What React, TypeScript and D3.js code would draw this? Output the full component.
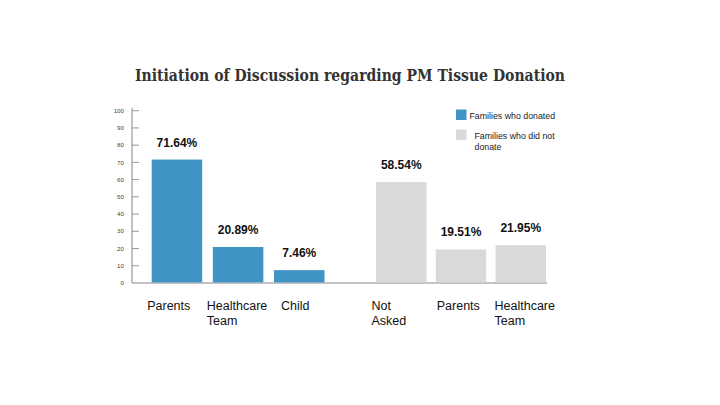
import { useEffect, useRef } from "react";
import * as d3 from "d3";

const donatedCategories = ["Parents", "Healthcare\nTeam", "Child"];
const donatedValues = [71.64, 20.89, 7.46];
const notDonatedCategories = ["Not\nAsked", "Parents", "Healthcare\nTeam"];
const notDonatedValues = [58.54, 19.51, 21.95];
const yTicks = [0, 10, 20, 30, 40, 50, 60, 70, 80, 90, 100];
const legendLabels = ["Families who donated", "Families who did not\ndonate"];

// label nudges relative to bar left edge, as placed in the original
const leftLabelShift = [-4.5, -6, 7];
const rightLabelShift = [-4.5, 1, -1];

const BLUE = "#4094c5";
const GRAY = "#d9d9d9";

function App() {
  const svgRef = useRef<SVGSVGElement | null>(null);

  useEffect(() => {
    const svg = d3.select(svgRef.current);
    svg.selectAll("*").remove();

    const y = d3.scaleLinear().domain([0, 100]).range([283, 110.7]);
    const xLeft = d3.scaleBand<string>()
      .domain(donatedCategories)
      .range([151.7, 324.5])
      .paddingInner(0.174)
      .paddingOuter(0);
    const xRight = d3.scaleBand<string>()
      .domain(notDonatedCategories)
      .range([376, 546])
      .paddingInner(0.155)
      .paddingOuter(0);

    // title
    svg.append("text")
      .attr("x", 350)
      .attr("y", 81)
      .attr("text-anchor", "middle")
      .attr("font-family", "'DejaVu Serif', serif")
      .attr("font-weight", "bold")
      .attr("font-size", 16.5)
      .attr("fill", "#333")
      .attr("textLength", 430)
      .attr("lengthAdjust", "spacingAndGlyphs")
      .text("Initiation of Discussion regarding PM Tissue Donation");

    // y axis
    const axis = svg.append("g").attr("transform", "translate(132,0)");
    axis.append("line")
      .attr("x1", 0).attr("x2", 0)
      .attr("y1", y(100) - 3).attr("y2", y(0))
      .attr("stroke", "#888").attr("stroke-width", 1);
    axis.selectAll("line.tick")
      .data(yTicks.filter((t) => t > 0))
      .join("line")
      .attr("class", "tick")
      .attr("x1", 0).attr("x2", 7)
      .attr("y1", (d) => y(d)).attr("y2", (d) => y(d))
      .attr("stroke", "#999").attr("stroke-width", 1);
    axis.selectAll("text")
      .data(yTicks)
      .join("text")
      .attr("x", -8)
      .attr("y", (d) => y(d))
      .attr("dy", "0.35em")
      .attr("text-anchor", "end")
      .attr("font-family", "Arial, 'Liberation Sans', sans-serif")
      .attr("font-size", 6.2)
      .attr("fill", "#444")
      .text((d) => d);

    // baseline
    svg.append("line")
      .attr("x1", 132).attr("x2", 547)
      .attr("y1", y(0)).attr("y2", y(0))
      .attr("stroke", "#888").attr("stroke-width", 1.2);

    const drawGroup = (
      cats: string[],
      vals: number[],
      shifts: number[],
      x: d3.ScaleBand<string>,
      color: string
    ) => {
      const g = svg.append("g");
      const data = cats.map((c, i) => ({ c, v: vals[i], s: shifts[i] }));
      g.selectAll("rect")
        .data(data)
        .join("rect")
        .attr("x", (d) => x(d.c)!)
        .attr("y", (d) => y(d.v))
        .attr("width", x.bandwidth())
        .attr("height", (d) => y(0) - y(d.v) - 0.6)
        .attr("fill", color);
      g.selectAll("text.value")
        .data(data)
        .join("text")
        .attr("class", "value")
        .attr("x", (d) => x(d.c)! + x.bandwidth() / 2)
        .attr("y", (d) => y(d.v) - 13)
        .attr("text-anchor", "middle")
        .attr("font-family", "Arial, 'Liberation Sans', sans-serif")
        .attr("font-weight", "bold")
        .attr("font-size", 12)
        .attr("fill", "#111")
        .text((d) => `${d.v.toFixed(2)}%`);
      const labels = g.selectAll("text.cat")
        .data(data)
        .join("text")
        .attr("class", "cat")
        .attr("font-family", "Arial, 'Liberation Sans', sans-serif")
        .attr("font-size", 12.5)
        .attr("fill", "#111");
      labels.selectAll("tspan")
        .data((d) => d.c.split("\n").map((line) => ({ line, x: x(d.c)! + d.s })))
        .join("tspan")
        .attr("x", (d) => d.x)
        .attr("y", (_d, i) => 309.5 + i * 15.5)
        .text((d) => d.line);
    };

    drawGroup(donatedCategories, donatedValues, leftLabelShift, xLeft, BLUE);
    drawGroup(notDonatedCategories, notDonatedValues, rightLabelShift, xRight, GRAY);

    // legend
    const legend = svg.append("g").attr("transform", "translate(456,109.5)");
    const items = legendLabels.map((l, i) => ({ l, color: i === 0 ? BLUE : GRAY }));
    const li = legend.selectAll("g")
      .data(items)
      .join("g")
      .attr("transform", (_d, i) => `translate(0,${i * 20})`);
    li.append("rect")
      .attr("width", 10.5).attr("height", 10.5)
      .attr("fill", (d) => d.color);
    const lt = li.append("text")
      .attr("font-family", "Arial, 'Liberation Sans', sans-serif")
      .attr("font-size", 8.8)
      .attr("fill", "#222");
    lt.selectAll("tspan")
      .data((d, i) => d.l.split("\n").map((line) => ({ line, x: i === 0 ? 13.5 : 18.5 })))
      .join("tspan")
      .attr("x", (d) => d.x)
      .attr("y", (_d, i) => 9.5 + i * 10.7)
      .text((d) => d.line);
  }, []);

  return (
    <svg
      ref={svgRef}
      width={720}
      height={405}
      style={{ position: "absolute", left: 0, top: 0, background: "#fff" }}
    />
  );
}

export default App;
